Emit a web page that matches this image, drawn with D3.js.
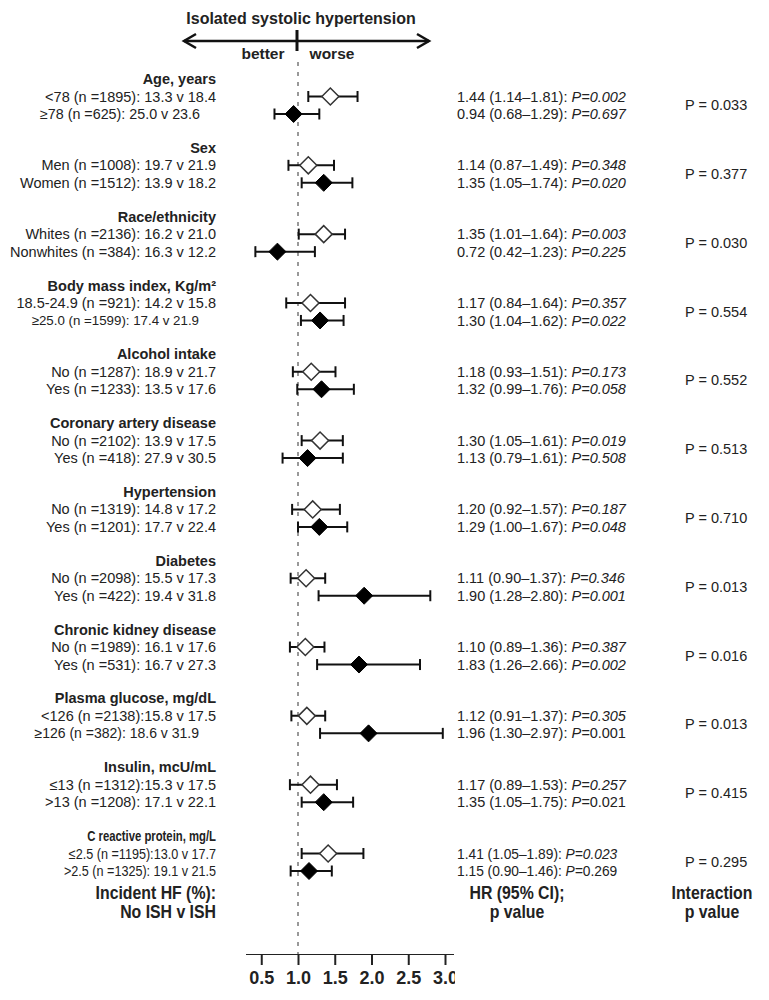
<!DOCTYPE html>
<html lang="en">
<head>
<meta charset="UTF-8" />
<title>ISH forest plot</title>
<script src="https://cdn.jsdelivr.net/npm/d3@7"></script>
<style>
  body { margin: 0; background: #fff; }
  svg { font-family: "Liberation Sans", Arial, sans-serif; }
</style>
</head>
<body>
<div id="chart"></div>
<script>
// subgroup headers
const groups = ["Age, years", "Sex", "Race/ethnicity", "Body mass index, Kg/m²", "Alcohol intake",
  "Coronary artery disease", "Hypertension", "Diabetes", "Chronic kidney disease",
  "Plasma glucose, mg/dL", "Insulin, mcU/mL", "C reactive protein, mg/L"];

// two rows per group: incident HF (%) no ISH v ISH
const rowLabels = [
  "<78 (n =1895): 13.3 v 18.4", "≥78 (n =625): 25.0 v 23.6",
  "Men (n =1008): 19.7 v 21.9", "Women (n =1512): 13.9 v 18.2",
  "Whites (n =2136): 16.2 v 21.0", "Nonwhites (n =384): 16.3 v 12.2",
  "18.5-24.9  (n =921): 14.2 v 15.8", "≥25.0 (n =1599): 17.4 v 21.9",
  "No (n =1287): 18.9 v 21.7", "Yes (n =1233): 13.5 v 17.6",
  "No (n =2102): 13.9 v 17.5", "Yes (n =418): 27.9 v 30.5",
  "No (n =1319): 14.8 v 17.2", "Yes (n =1201): 17.7 v 22.4",
  "No (n =2098): 15.5 v 17.3", "Yes (n =422): 19.4 v 31.8",
  "No (n =1989): 16.1 v 17.6", "Yes (n =531): 16.7 v 27.3",
  "<126 (n =2138):15.8 v 17.5", "≥126  (n =382): 18.6 v 31.9",
  "≤13  (n =1312):15.3 v 17.5", ">13  (n =1208): 17.1 v 22.1",
  "≤2.5  (n =1195):13.0 v 17.7", ">2.5 (n =1325): 19.1 v 21.5"
];

const hr = [1.44, 0.94, 1.14, 1.35, 1.35, 0.72, 1.17, 1.30, 1.18, 1.32, 1.30, 1.13,
            1.20, 1.29, 1.11, 1.90, 1.10, 1.83, 1.12, 1.96, 1.17, 1.35, 1.41, 1.15];
const ciLo = [1.14, 0.68, 0.87, 1.05, 1.01, 0.42, 0.84, 1.04, 0.93, 0.99, 1.05, 0.79,
              0.92, 1.00, 0.90, 1.28, 0.89, 1.26, 0.91, 1.30, 0.89, 1.05, 1.05, 0.90];
const ciHi = [1.81, 1.29, 1.49, 1.74, 1.64, 1.23, 1.64, 1.62, 1.51, 1.76, 1.61, 1.61,
              1.57, 1.67, 1.37, 2.80, 1.36, 2.66, 1.37, 2.97, 1.53, 1.75, 1.89, 1.46];
const pVals = ["0.002", "0.697", "0.348", "0.020", "0.003", "0.225", "0.357", "0.022",
               "0.173", "0.058", "0.019", "0.508", "0.187", "0.048", "0.346", "0.001",
               "0.387", "0.002", "0.305", "0.001", "0.257", "0.021", "0.023", "0.269"];
const pItalic = [1,1,1,1,1,1,1,1,1,1,1,1,1,1,1,1,1,1,1,0,1,0,1,0];
const interaction = ["0.033", "0.377", "0.030", "0.554", "0.552", "0.513", "0.710",
                     "0.013", "0.016", "0.013", "0.415", "0.295"];
const tickVals = [0.5, 1.0, 1.5, 2.0, 2.5, 3.0];

const width = 769, height = 1000;
const labelX = 216, hrX = 457, intX = 685;

// per-row text styling quirks of the original figure: [fontSize, xScale, rightEdge]
function labelStyle(i) {
  if (i === 1) return [14.3, 1, 200];
  if (i === 7) return [13.3, 1, 199];
  if (i === 19) return [14, 1, 199];
  if (i >= 22) return [14.5, 0.87, labelX];
  return [14.5, 1, labelX];
}

const svg = d3.select("#chart").append("svg")
  .attr("width", width).attr("height", height);

const x = d3.scaleLinear().domain([1, 3]).range([298, 445]);
const yGroup = d3.scaleLinear().domain([0, 11]).range([79, 836]);
const rowY = i => yGroup(Math.floor(i / 2)) + 17.5 * (i % 2 + 1);

// title + direction arrow
svg.append("text").attr("x", 301).attr("y", 24).attr("text-anchor", "middle")
  .attr("font-weight", "bold").attr("font-size", 16).attr("fill", "#222")
  .text("Isolated systolic hypertension");
svg.append("line").attr("x1", 184).attr("x2", 429).attr("y1", 41).attr("y2", 41)
  .attr("stroke", "#111").attr("stroke-width", 2.5);
svg.append("path").attr("d", "M196,34 L184,41 L196,48 M417,34 L429,41 L417,48")
  .attr("fill", "none").attr("stroke", "#111").attr("stroke-width", 2.5);
svg.append("line").attr("x1", 297).attr("x2", 297).attr("y1", 30).attr("y2", 51)
  .attr("stroke", "#111").attr("stroke-width", 3);
svg.append("text").attr("x", 263).attr("y", 59).attr("text-anchor", "middle")
  .attr("font-weight", "bold").attr("font-size", 15.5).attr("fill", "#222").text("better");
svg.append("text").attr("x", 332).attr("y", 59).attr("text-anchor", "middle")
  .attr("font-weight", "bold").attr("font-size", 15.5).attr("fill", "#222").text("worse");

// reference line at HR = 1
svg.append("line").attr("x1", x(1)).attr("x2", x(1)).attr("y1", 62).attr("y2", 954)
  .attr("stroke", "#999").attr("stroke-width", 2).attr("stroke-dasharray", "4,6");

// group headers + interaction p
groups.forEach((g, i) => {
  const sx = i === 11 ? 0.78 : 1;
  svg.append("text").attr("text-anchor", "end").attr("dy", "0.35em")
    .attr("font-weight", "bold").attr("font-size", 14.5).attr("fill", "#222")
    .attr("transform", `translate(${labelX},${yGroup(i)}) scale(${sx},1)`).text(g);
  svg.append("text").attr("x", intX).attr("y", yGroup(i) + 26).attr("dy", "0.35em")
    .attr("font-size", 14.5).attr("fill", "#222").text("P = " + interaction[i]);
});

// row labels + HR text
rowLabels.forEach((lab, i) => {
  const y = rowY(i);
  const [fs, sx, rx] = labelStyle(i);
  svg.append("text").attr("text-anchor", "end").attr("dy", "0.35em")
    .attr("font-size", fs).attr("fill", "#222")
    .attr("transform", `translate(${rx},${y}) scale(${sx},1)`)
    .text(lab);
  const h = svg.append("text").attr("dy", "0.35em").attr("font-size", 14.5).attr("fill", "#222")
    .attr("transform", `translate(${hrX},${y}) scale(${i >= 22 ? 0.95 : 1},1)`);
  h.append("tspan").text(`${hr[i].toFixed(2)} (${ciLo[i].toFixed(2)}–${ciHi[i].toFixed(2)}): `);
  h.append("tspan").attr("font-style", "italic").text("P=");
  h.append("tspan").attr("font-style", pItalic[i] ? "italic" : "normal").text(pVals[i]);
});

// CIs and diamonds
const marks = svg.append("g");
rowLabels.forEach((_, i) => {
  const y = rowY(i), filled = i % 2 === 1;
  const g = marks.append("g").attr("stroke", "#111").attr("stroke-width", 2);
  g.append("line").attr("x1", x(ciLo[i])).attr("x2", x(ciHi[i])).attr("y1", y).attr("y2", y);
  [ciLo[i], ciHi[i]].forEach(v => g.append("line").attr("x1", x(v)).attr("x2", x(v))
    .attr("y1", y - 5.5).attr("y2", y + 5.5));
  const s = 8.5, cx = x(hr[i]);
  g.append("path").attr("d", d3.line()([[cx - s, y], [cx, y - s], [cx + s, y], [cx, y + s]]) + "Z")
    .attr("fill", filled ? "#000" : "#fff")
    .attr("stroke", filled ? "#000" : "#333").attr("stroke-width", filled ? 1 : 1.5);
});

// footer column titles
const foot = [[labelX, "end", ["Incident HF (%):", "No ISH v ISH"]],
              [517, "middle", ["HR  (95% CI);", "p value"]],
              [712, "middle", ["Interaction", "p value"]]];
foot.forEach(([fx, anchor, lines]) => {
  lines.forEach((l, j) => {
    svg.append("text").attr("text-anchor", anchor).attr("font-weight", "bold")
      .attr("font-size", 18).attr("fill", "#222")
      .attr("transform", `translate(${fx},${899 + j * 19}) scale(0.88,1)`).text(l);
  });
});

// x axis
svg.append("clipPath").attr("id", "crop").append("rect")
  .attr("x", 0).attr("y", 0).attr("width", 455).attr("height", height);
const axisG = svg.append("g").attr("transform", "translate(0,954)").attr("clip-path", "url(#crop)")
  .call(d3.axisBottom(x).tickValues(tickVals).tickSize(11).tickPadding(6).tickFormat(d3.format(".1f")));
axisG.select(".domain").remove();
axisG.selectAll(".tick line").attr("stroke", "#222").attr("stroke-width", 2);
axisG.selectAll(".tick text").attr("font-size", 18).attr("font-weight", "bold")
  .attr("fill", "#222").attr("font-family", "Liberation Sans, Arial, sans-serif");
axisG.append("line").attr("x1", 246).attr("x2", 454).attr("stroke", "#222").attr("stroke-width", 2);
</script>
</body>
</html>
